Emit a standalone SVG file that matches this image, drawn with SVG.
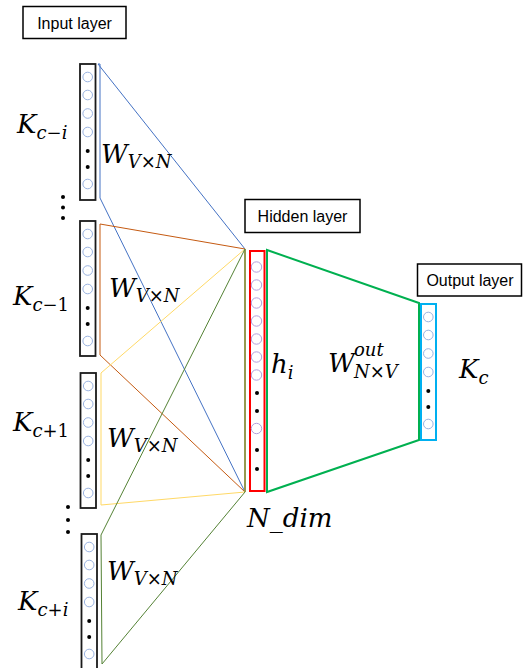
<svg xmlns="http://www.w3.org/2000/svg" xmlns:xlink="http://www.w3.org/1999/xlink" width="523" height="668" viewBox="0 0 523 668">
<style>
.box{fill:#fff;stroke:#000;stroke-width:1.5}
.lbl{font-family:"Liberation Sans",Arial,sans-serif;font-size:16px;fill:#000;text-anchor:middle}
.col{fill:none;stroke:#1a1a1a;stroke-width:1.8}
.cin{fill:none;stroke:#8FAADC;stroke-width:0.9}
.chid{fill:none;stroke:#B4A0DC;stroke-width:1}
.dot{fill:#000}
.m{font-family:"DejaVu Serif","Liberation Serif",serif;font-style:italic;font-size:26px;fill:#000}
.s{font-size:18px}
.u{font-style:normal}
.tr{fill:none;stroke-width:1}
</style>
<defs>
<g id="inner">
<circle class="cin" cx="0" cy="13" r="4.8"/>
<circle class="cin" cx="0" cy="31" r="4.8"/>
<circle class="cin" cx="0" cy="49.5" r="4.8"/>
<circle class="cin" cx="0" cy="68" r="4.8"/>
<circle class="dot" cx="0" cy="87" r="2"/>
<circle class="dot" cx="0" cy="103" r="2"/>
<circle class="cin" cx="0" cy="120" r="4.8"/>
</g>
</defs>
<rect width="523" height="668" fill="#fff"/>

<g id="connectors">
<polygon class="tr" stroke="#4472C4" points="98,64 245,249 245,492 100,198 100,64"/>
<polygon class="tr" stroke="#C55A11" points="100,224 245,249 245,492 100,355"/>
<polygon class="tr" stroke="#FFD966" points="101,373 245,249 245,492 101,505"/>
<polygon class="tr" stroke="#548235" points="101,535 245,249 245,492 102,664"/>
<polygon fill="none" stroke="#00B050" stroke-width="2" points="267,250 419,303 419,440 267,492"/>
<text class="m" x="101" y="163">W<tspan class="s" y="168">V<tspan class="u">×</tspan>N</tspan></text>
<text class="m" x="109" y="297">W<tspan class="s" y="302">V<tspan class="u">×</tspan>N</tspan></text>
<text class="m" x="107" y="447">W<tspan class="s" y="452">V<tspan class="u">×</tspan>N</tspan></text>
<text class="m" x="107" y="580">W<tspan class="s" y="585">V<tspan class="u">×</tspan>N</tspan></text>
<text class="m" x="328" y="372">W</text>
<text class="m s" x="354" y="356">out</text>
<text class="m s" x="354" y="378">N<tspan class="u">×</tspan>V</text>
</g>

<g id="input-layer-label">
<rect class="box" x="23" y="6.5" width="103" height="32"/>
<text class="lbl" x="74.5" y="28.5">Input layer</text>
</g>

<g id="input-col-1">
<rect class="col" x="80" y="64" width="15.5" height="136"/>
<use xlink:href="#inner" x="87.7" y="64"/>
<text class="m" x="17" y="133">K<tspan class="s" y="139">c<tspan class="u">−</tspan>i</tspan></text>
</g>
<g id="ellipsis-1">
<circle class="dot" cx="63" cy="197" r="2"/>
<circle class="dot" cx="63" cy="207.5" r="2"/>
<circle class="dot" cx="63" cy="218" r="2"/>
</g>
<g id="input-col-2">
<rect class="col" x="80" y="221" width="15.5" height="135"/>
<use xlink:href="#inner" x="87.7" y="221"/>
<text class="m" x="13" y="305">K<tspan class="s" y="311">c<tspan class="u">−1</tspan></tspan></text>
</g>
<g id="input-col-3">
<rect class="col" x="80.5" y="373" width="15.5" height="135"/>
<use xlink:href="#inner" x="88.2" y="373"/>
<text class="m" x="13" y="431">K<tspan class="s" y="437">c<tspan class="u">+1</tspan></tspan></text>
</g>
<g id="ellipsis-2">
<circle class="dot" cx="68" cy="507" r="2"/>
<circle class="dot" cx="68" cy="520" r="2"/>
<circle class="dot" cx="68" cy="532" r="2"/>
</g>
<g id="input-col-4">
<rect class="col" x="81.5" y="534" width="15.5" height="136"/>
<use xlink:href="#inner" x="89.2" y="534"/>
<text class="m" x="18" y="610">K<tspan class="s" y="616">c<tspan class="u">+</tspan>i</tspan></text>
</g>

<g id="hidden-layer-label">
<rect class="box" x="245" y="199.5" width="115" height="33"/>
<text class="lbl" x="302.5" y="221.5">Hidden layer</text>
</g>
<g id="hidden-layer">
<rect x="250" y="251" width="14.5" height="240" fill="none" stroke="#FF0000" stroke-width="2"/>
<circle class="chid" cx="256.5" cy="267" r="5.2"/>
<circle class="chid" cx="256.5" cy="285" r="5.2"/>
<circle class="chid" cx="256.5" cy="303" r="5.2"/>
<circle class="chid" cx="256.5" cy="321" r="5.2"/>
<circle class="chid" cx="256.5" cy="339" r="5.2"/>
<circle class="chid" cx="256.5" cy="357" r="5.2"/>
<circle class="chid" cx="256.5" cy="375" r="5.2"/>
<circle class="dot" cx="257" cy="393" r="2"/>
<circle class="dot" cx="257" cy="411" r="2"/>
<circle class="chid" cx="256.5" cy="428.5" r="5.2"/>
<circle class="dot" cx="257" cy="450" r="2"/>
<circle class="dot" cx="257" cy="469" r="2"/>
<text class="m" x="271" y="373">h<tspan class="s" y="379">i</tspan></text>
<text class="m" x="247" y="527">N_dim</text>
</g>

<g id="output-layer-label">
<rect class="box" x="417.5" y="264" width="104" height="32"/>
<text class="lbl" x="470" y="286">Output layer</text>
</g>
<g id="output-layer">
<rect x="421" y="304" width="15" height="136" fill="none" stroke="#00B0F0" stroke-width="2"/>
<use xlink:href="#inner" x="428.3" y="304"/>
<text class="m" x="459" y="378">K<tspan class="s" y="384">c</tspan></text>
</g>
</svg>
